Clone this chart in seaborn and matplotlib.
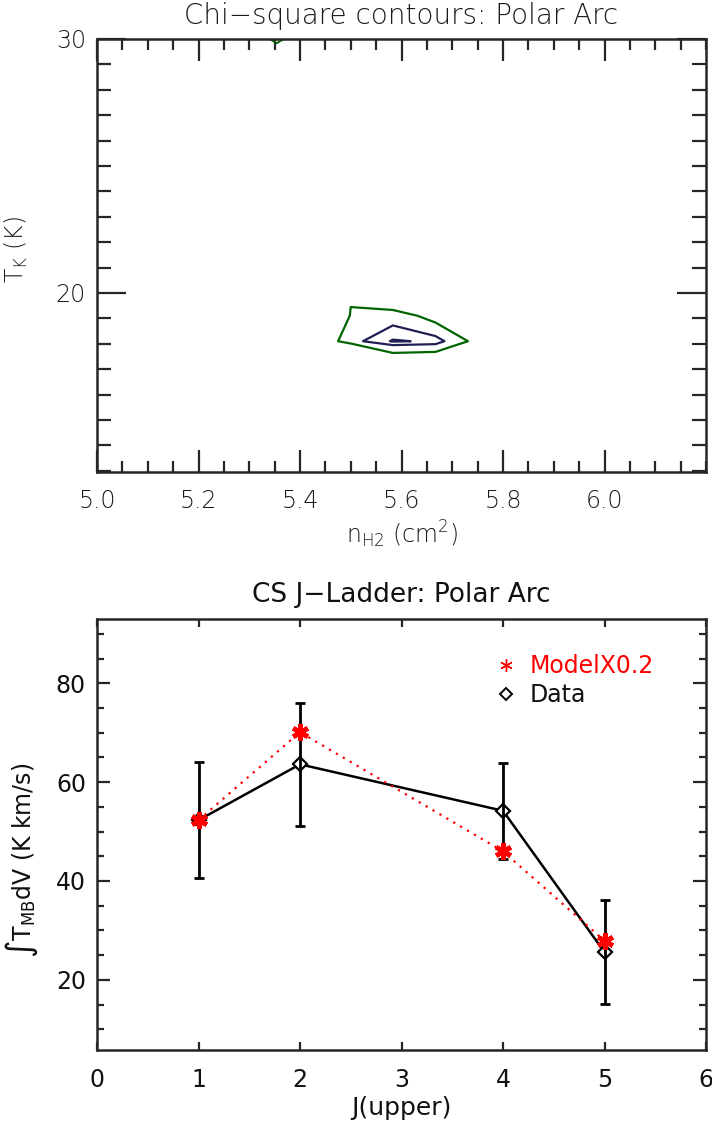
import numpy as np
import pandas as pd
import matplotlib
matplotlib.use("Agg")
import matplotlib.pyplot as plt
from matplotlib.lines import Line2D
from matplotlib.ticker import FixedLocator, MultipleLocator
import seaborn as sns

# ---- chi-square grid (log n_H2 columns, T_K rows) around the best fit ----
log_n_grid = [5.333, 5.417, 5.500, 5.583, 5.667, 5.750, 5.833]
tk_grid = [16.1, 17.1, 18.1, 19.1, 20.1, 21.1]
chi2_grid = [
    [30.0, 28.0, 26.0, 22.0, 21.0, 24.0, 28.0],
    [20.0, 16.0, 20.0, 7.5, 7.8, 14.0, 18.0],
    [14.0, 7.7, 2.41, 1.0, 1.24, 4.82, 10.0],
    [14.0, 8.0, 3.9, 2.61, 5.0, 7.0, 12.0],
    [16.0, 10.0, 4.19, 8.65, 9.0, 10.0, 14.0],
    [20.0, 14.0, 9.0, 11.0, 13.0, 14.0, 18.0],
]
# small low-chi2 pocket at the warm end of the grid
edge_log_n = [5.271, 5.354, 5.437]
edge_tk = [29, 30, 31]
edge_chi2 = [
    [9.0, 6.0, 9.0],
    [6.0, 3.6, 6.0],
    [5.0, 3.0, 5.0],
]
chi2_levels = [1.1, 2.0, 4.0]
chi2_colors = ["#1f1f55", "#1f1f55", "#006400"]

# ---- CS rotational ladder ----
j_upper = [1, 2, 4, 5]
data_flux = [52.3, 63.6, 54.2, 25.6]
data_err = [11.8, 12.4, 9.7, 10.5]
model_flux = [52.3, 70.1, 46.0, 27.9]

ladder = pd.DataFrame({"J": j_upper, "data": data_flux, "err": data_err,
                       "model": model_flux})

sns.set_theme(style="ticks")
plt.rcParams["font.family"] = ["DejaVu Sans"]
plt.rcParams["mathtext.default"] = "regular"
plt.rcParams["axes.linewidth"] = 1.8

fig = plt.figure(figsize=(7.12, 11.33), dpi=100)
W, H = 712, 1133


def box(l, t, r, b):
    return [l / W, 1 - b / H, (r - l) / W, (b - t) / H]


# ================= top: chi-square contours =================
ax1 = fig.add_axes(box(97, 39, 706, 472))
light = dict(fontweight="light", color="#1a1a1a")

ax1.contour(log_n_grid, tk_grid, np.array(chi2_grid), levels=chi2_levels,
            colors=chi2_colors, linewidths=1.6)
ax1.contour(edge_log_n, edge_tk, np.array(edge_chi2), levels=chi2_levels,
            colors=chi2_colors, linewidths=1.4)

ax1.set_xlim(5.0, 6.2)
ax1.set_ylim(12.95, 30.0)
ax1.xaxis.set_major_locator(FixedLocator([5.0, 5.2, 5.4, 5.6, 5.8, 6.0]))
ax1.xaxis.set_minor_locator(MultipleLocator(0.05))
ax1.yaxis.set_major_locator(FixedLocator([20, 30]))
ax1.yaxis.set_minor_locator(MultipleLocator(1))
ax1.set_xticklabels(["5.0", "5.2", "5.4", "5.6", "5.8", "6.0"],
                    fontsize=17, **light)
ax1.set_yticklabels(["20", "30"], fontsize=17, **light)
ax1.tick_params(axis="x", which="major", direction="in", length=16, width=1.6,
                top=True, pad=12)
ax1.tick_params(axis="x", which="minor", direction="in", length=8, width=1.6,
                top=True)
ax1.tick_params(axis="y", which="major", direction="in", length=21, width=1.6,
                right=True, pad=8)
ax1.tick_params(axis="y", which="minor", direction="in", length=10, width=1.6,
                right=True)
ax1.set_title("Chi\u2212square contours: Polar Arc", fontsize=20, pad=11,
              **light)
ax1.set_xlabel(r"n$_{H2}$ (cm$^{2}$)", fontsize=17, labelpad=4, **light)
ax1.set_ylabel(r"T$_{K}$ (K)", fontsize=17, **light)
ax1.yaxis.set_label_coords(-0.11, 0.513)

# ================= bottom: J ladder =================
ax2 = fig.add_axes(box(97, 619, 706, 1050))

sns.lineplot(data=ladder, x="J", y="data", ax=ax2, color="black",
             linewidth=1.8, marker="D", markersize=7, markerfacecolor="white",
             markeredgecolor="black", markeredgewidth=1.6, zorder=3)
ax2.errorbar(ladder["J"], ladder["data"], yerr=ladder["err"], fmt="none",
             ecolor="black", elinewidth=2.0, capsize=3.5, capthick=2.0,
             zorder=3)
sns.lineplot(data=ladder, x="J", y="model", ax=ax2, color="red",
             linewidth=1.6, linestyle=(0, (1, 2.6)), marker=(6, 2, 0),
             markersize=12, markeredgecolor="red", markeredgewidth=3.4,
             zorder=4)

ax2.set_xlim(0, 6)
ax2.set_ylim(5.8, 93)
ax2.xaxis.set_major_locator(MultipleLocator(1))
ax2.yaxis.set_major_locator(FixedLocator([20, 40, 60, 80]))
ax2.yaxis.set_minor_locator(MultipleLocator(5))
ax2.tick_params(axis="x", which="major", direction="in", length=6, width=1.6,
                top=True, pad=13, labelsize=17)
ax2.tick_params(axis="y", which="major", direction="in", length=9.5,
                width=1.6, right=True, pad=8, labelsize=17)
ax2.tick_params(axis="y", which="minor", direction="in", length=5,
                width=1.6, right=True)
for lab in ax2.get_xticklabels() + ax2.get_yticklabels():
    lab.set_color("#111111")
ax2.set_title("CS J\u2212Ladder: Polar Arc", fontsize=19, pad=12,
              color="#111111")
ax2.set_xlabel("J(upper)", fontsize=18, labelpad=3, color="#111111")
ax2.set_ylabel(r"$\int$T$_{MB}$dV (K km/s)", fontsize=17, color="#111111")
ax2.yaxis.set_label_coords(-0.094, 0.44)

handles = [
    Line2D([], [], ls="none", marker=(6, 2, 0), color="red", markersize=9,
           markeredgewidth=1.0),
    Line2D([], [], ls="none", marker="D", markerfacecolor="white",
           markeredgecolor="black", markersize=6, markeredgewidth=1.4),
]
leg = ax2.legend(handles, ["ModelX0.2", "Data"], loc="upper left",
                 bbox_to_anchor=(0.64, 0.94), frameon=False, fontsize=17,
                 handlelength=0.8, handletextpad=0.6, labelspacing=0.2,
                 borderaxespad=0)
leg.get_texts()[0].set_color("red")
leg.get_texts()[1].set_color("#111111")

fig.savefig("out.png", dpi=100)
